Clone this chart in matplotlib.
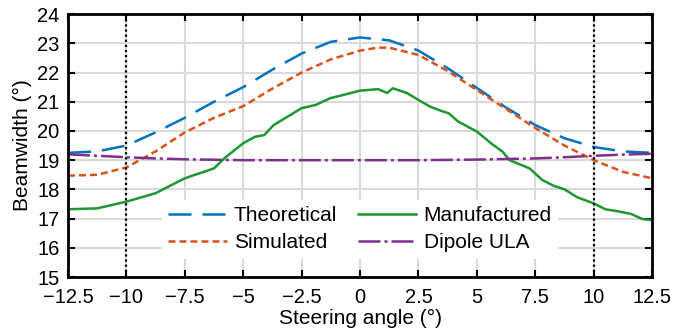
import matplotlib.pyplot as plt
import numpy as np

plt.rcParams['font.family'] = ['Liberation Sans', 'DejaVu Sans']
plt.rcParams['font.size'] = 14.5
plt.rcParams['axes.unicode_minus'] = True

# ================= Data =================
ang_th = [-12.5, -11.25, -10, -8.75, -7.5, -6.25, -5, -3.75, -2.5, -1.25, 0,
          1.25, 2.5, 3.75, 5, 6.25, 7.5, 8.75, 10, 11.25, 12.5]
theoretical = [19.25, 19.3, 19.5, 19.95, 20.45, 21.0, 21.5, 22.1, 22.65, 23.05, 23.2,
               23.1, 22.75, 22.15, 21.47, 20.8, 20.2, 19.75, 19.45, 19.3, 19.25]

ang_sim = [-12.5, -11.25, -10, -8.75, -7.5, -6.25, -5, -3.75, -2.5, -1.25, 0, 0.75,
           1.25, 2.5, 3.75, 5, 6.25, 7.5, 8.75, 10, 11.25, 12.5]
simulated = [18.47, 18.5, 18.75, 19.3, 19.95, 20.45, 20.85, 21.45, 22.0, 22.45, 22.75, 22.85,
             22.85, 22.6, 22.05, 21.4, 20.75, 20.1, 19.5, 19.0, 18.6, 18.38]

ang_man = [-12.5, -11.25, -10, -8.75, -7.5, -6.25, -5.8, -5, -4.5, -4.1, -3.7, -2.5, -1.9,
           -1.28, -0.73, 0, 0.77, 1.16, 1.4, 2.0, 2.5, 3.0, 3.5, 3.8, 4.2, 5.0, 5.6, 6.1,
           6.4, 7.25, 7.8, 8.3, 8.75, 9.3, 10, 10.5, 11.1, 11.6, 12.1, 12.5]
manufactured = [17.32, 17.35, 17.58, 17.87, 18.38, 18.72, 19.07, 19.58, 19.8, 19.86, 20.2,
                20.78, 20.89, 21.12, 21.23, 21.38, 21.43, 21.3, 21.46, 21.3, 21.06, 20.83,
                20.68, 20.6, 20.32, 19.98, 19.58, 19.29, 19.0, 18.72, 18.32, 18.12, 18.0,
                17.73, 17.52, 17.32, 17.24, 17.16, 16.98, 16.95]

ang_dip = [-12.5, -11.25, -10, -8.75, -7.5, -5, -2.5, 0, 2.5, 5, 7.5, 8.75, 10, 11.25, 12.5]
dipole = [19.2, 19.15, 19.1, 19.06, 19.03, 19.0, 19.0, 19.0, 19.0, 19.02, 19.06, 19.1,
          19.15, 19.19, 19.22]

xticks = [-12.5, -10, -7.5, -5, -2.5, 0, 2.5, 5, 7.5, 10, 12.5]
xticklabels = ['\u221212.5', '\u221210', '\u22127.5', '\u22125', '\u22122.5', '0',
               '2.5', '5', '7.5', '10', '12.5']
yticks = list(range(15, 25))
vlines = [-10, 10]

colors = {
    "th": "#0072BD",
    "sim": "#D95319",
    "man": "#1E9632",
    "dip": "#7E2F8E",
}

# ================= Plot =================
fig = plt.figure(figsize=(6.73, 3.35), dpi=100)
ax = fig.add_axes([0.101, 0.173, 0.868, 0.785])

lw = 1.8
# order gives column 1: Theoretical/Simulated, column 2: Manufactured/Dipole ULA
ax.plot(ang_th, theoretical, color=colors["th"], lw=lw, ls=(0, (9.2, 4.4)), label="Theoretical")
ax.plot(ang_sim, simulated, color=colors["sim"], lw=lw, ls=(0, (2.8, 1.6)), label="Simulated")
ax.plot(ang_man, manufactured, color=colors["man"], lw=lw, label="Manufactured")
ax.plot(ang_dip, dipole, color=colors["dip"], lw=lw, ls=(0, (8.8, 1.6, 1.2, 1.6)),
        label="Dipole ULA")

for v in vlines:
    ax.axvline(v, color="black", lw=1.6, ls=(0, (1, 1.3)), zorder=3)

ax.set_xlim(-12.5, 12.5)
ax.set_ylim(15, 24)
ax.set_xticks(xticks)
ax.set_xticklabels(xticklabels)
ax.set_yticks(yticks)
ax.grid(True, color="#d9d9d9", lw=1.5)
ax.set_axisbelow(True)
ax.tick_params(direction="in", top=True, right=True, width=1.5, length=5,
               labelsize=14.5, labelright=False, labeltop=False, pad=6)
ax.tick_params(axis="x", pad=8)
for s in ax.spines.values():
    s.set_linewidth(2)

ax.set_xlabel("Steering angle (°)", fontsize=15, labelpad=1)
ax.set_ylabel("Beamwidth (°)", fontsize=15, labelpad=4)

leg = ax.legend(ncol=2, loc="lower center", bbox_to_anchor=(0.5, 0.03),
                frameon=True, fancybox=False, framealpha=1, edgecolor="none",
                facecolor="white", handlelength=2.8, handletextpad=0.35,
                columnspacing=1.0, labelspacing=0.4, borderpad=0.3, fontsize=15)

fig.savefig("out.png", dpi=100)
